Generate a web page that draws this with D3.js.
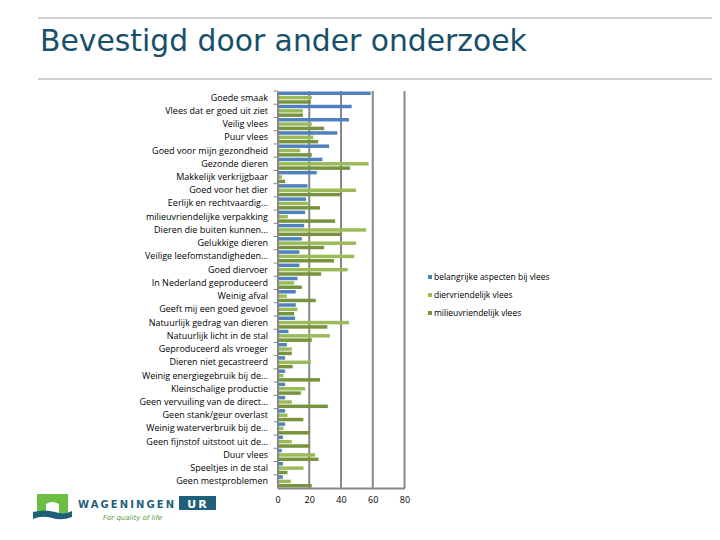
<!DOCTYPE html>
<html><head><meta charset="utf-8">
<script src="https://cdn.jsdelivr.net/npm/d3@7/dist/d3.min.js"></script>
<style>body{margin:0;background:#fff}svg{display:block}</style>
</head><body>
<svg id="c" width="720" height="540"></svg>
<script>
const categories = ["Goede smaak","Vlees dat er goed uit ziet","Veilig vlees","Puur vlees","Goed voor mijn gezondheid","Gezonde dieren","Makkelijk verkrijgbaar","Goed voor het dier","Eerlijk en rechtvaardig…","milieuvriendelijke verpakking","Dieren die buiten kunnen…","Gelukkige dieren","Veilige leefomstandigheden…","Goed diervoer","In Nederland geproduceerd","Weinig afval","Geeft mij een goed gevoel","Natuurlijk gedrag van dieren","Natuurlijk licht in de stal","Geproduceerd als vroeger","Dieren niet gecastreerd","Weinig energiegebruik bij de…","Kleinschalige productie","Geen vervuiling van de direct…","Geen stank/geur overlast","Weinig waterverbruik bij de…","Geen fijnstof uitstoot uit de…","Duur vlees","Speeltjes in de stal","Geen mestproblemen"];
const seriesNames = ["belangrijke aspecten bij vlees","diervriendelijk vlees","milieuvriendelijk vlees"];
const belangrijk = [58.7,46.7,45,37.7,32.5,28.3,24.7,18.9,18,17.4,16.8,15.3,13.8,13.8,12.6,11.5,11.5,11.1,6.9,5.9,4.8,4.8,4.8,4.8,4.8,4.8,3.4,2.7,3.4,3.4];
const diervriendelijk = [21.6,16,21.6,22.6,14.3,57.4,2.9,49.5,20,6.5,55.8,49.5,48.4,44.2,10.5,5.9,12.6,45,33.1,9,21,3.8,17.4,9,6.3,3.8,9,23.7,16.4,8.4];
const milieuvriendelijk = [21,16,29.4,25.6,21.6,45.7,4.8,40,26.8,36.3,40,29.4,35.6,27.5,15.3,24.1,10.5,31.4,21.6,9,9.6,26.8,14.7,31.7,16.3,20.5,20.5,25.8,6.3,21.6];
const xTicks = [0,20,40,60,80];
const colors = ["#4F81BD","#9BBB59","#77933C"];
const seriesValues = [belangrijk, diervriendelijk, milieuvriendelijk];

const svg = d3.select("#c");
// header lines & title
svg.append("line").attr("x1",38).attr("x2",712).attr("y1",18).attr("y2",18).attr("stroke","#97A6B0").attr("stroke-width",1);
svg.append("line").attr("x1",38).attr("x2",712).attr("y1",79).attr("y2",79).attr("stroke","#97A6B0").attr("stroke-width",1);
svg.append("text").attr("x",40).attr("y",51).attr("font-family","DejaVu Sans").attr("font-size",29.8)
  .attr("fill","#17506A").text("Bevestigd door ander onderzoek");

const x = d3.scaleLinear().domain([0,80]).range([277.5,404.5]);
const y = d3.scaleBand().domain(categories).range([91,488]).paddingInner(0.08).paddingOuter(0.04);
const inner = d3.scaleBand().domain([0,1,2]).range([0,y.bandwidth()]).paddingInner(0.2);

const g = svg.append("g");
// gridlines
g.selectAll("line.grid").data(xTicks.slice(1)).join("line")
  .attr("x1",d=>x(d)).attr("x2",d=>x(d)).attr("y1",91).attr("y2",488)
  .attr("stroke","#878787").attr("stroke-width",2);

// bars
seriesValues.forEach((vals,si)=>{
  g.selectAll("rect.s"+si).data(categories).join("rect")
    .attr("x",x(0)).attr("y",(d,i)=>y(d)+inner(si))
    .attr("width",(d,i)=>x(vals[i])-x(0)).attr("height",inner.bandwidth())
    .attr("fill",colors[si]);
});

// y axis
const yAxis = d3.axisLeft(y).tickSize(4).tickSizeOuter(0).tickFormat("");
const ya = svg.append("g").attr("transform",`translate(${x(0)},0)`).call(yAxis);
ya.select(".domain").attr("stroke","#878787").attr("stroke-width",2);
ya.selectAll(".tick line").attr("stroke","#878787").attr("transform",`translate(0,${-y.step()/2})`);
// category labels
svg.append("g").selectAll("text").data(categories).join("text")
  .attr("x",268).attr("y",d=>y(d)+y.bandwidth()/2+3)
  .attr("text-anchor","end").attr("font-family","Open Sans").attr("font-size",9).attr("fill","#000")
  .text(d=>d);

// x axis
const xAxis = d3.axisBottom(x).tickValues(xTicks).tickSize(0).tickPadding(9);
const xa = svg.append("g").attr("transform","translate(0,488)").call(xAxis);
xa.select(".domain").attr("stroke","#878787").attr("stroke-width",2);
xa.selectAll("text").attr("font-family","Open Sans").attr("font-size",9).attr("fill","#000");

// legend
const leg = svg.append("g").attr("transform","translate(428,278)");
seriesNames.forEach((n,i)=>{
  leg.append("rect").attr("x",0).attr("y",i*18-3).attr("width",4).attr("height",4).attr("fill",colors[i]);
  leg.append("text").attr("x",6).attr("y",i*18+2).attr("font-family","Open Sans").attr("font-size",8.5).text(n);
});

// logo
const logo = svg.append("g");
logo.append("path").attr("d","M37,494 L68,494 L68,513 L59,513 L59,504 Q52,500 46,504 L46,513 L37,513 Z").attr("fill","#6CBE45");
logo.append("path").attr("d","M33,512 Q45,509 55,512 Q65,515 72,511 L72,517 Q62,521 52,518 Q42,515 33,519 Z").attr("fill","#1F5F7A");
logo.append("text").attr("x",78).attr("y",508).attr("font-family","DejaVu Sans").attr("font-weight","bold")
  .attr("font-size",10).attr("textLength",96).attr("lengthAdjust","spacing").attr("fill","#1F5F7A").text("WAGENINGEN");
logo.append("rect").attr("x",179).attr("y",496).attr("width",37).attr("height",14).attr("fill","#1F5F7A");
logo.append("text").attr("x",198).attr("y",508).attr("text-anchor","middle").attr("font-family","DejaVu Sans").attr("font-weight","bold")
  .attr("font-size",11).attr("letter-spacing",2).attr("fill","#fff").text("UR");
logo.append("text").attr("x",103).attr("y",520).attr("font-family","DejaVu Sans").attr("font-style","italic")
  .attr("font-size",7).attr("fill","#5A9A3A").text("For quality of life");
</script>
</body></html>
